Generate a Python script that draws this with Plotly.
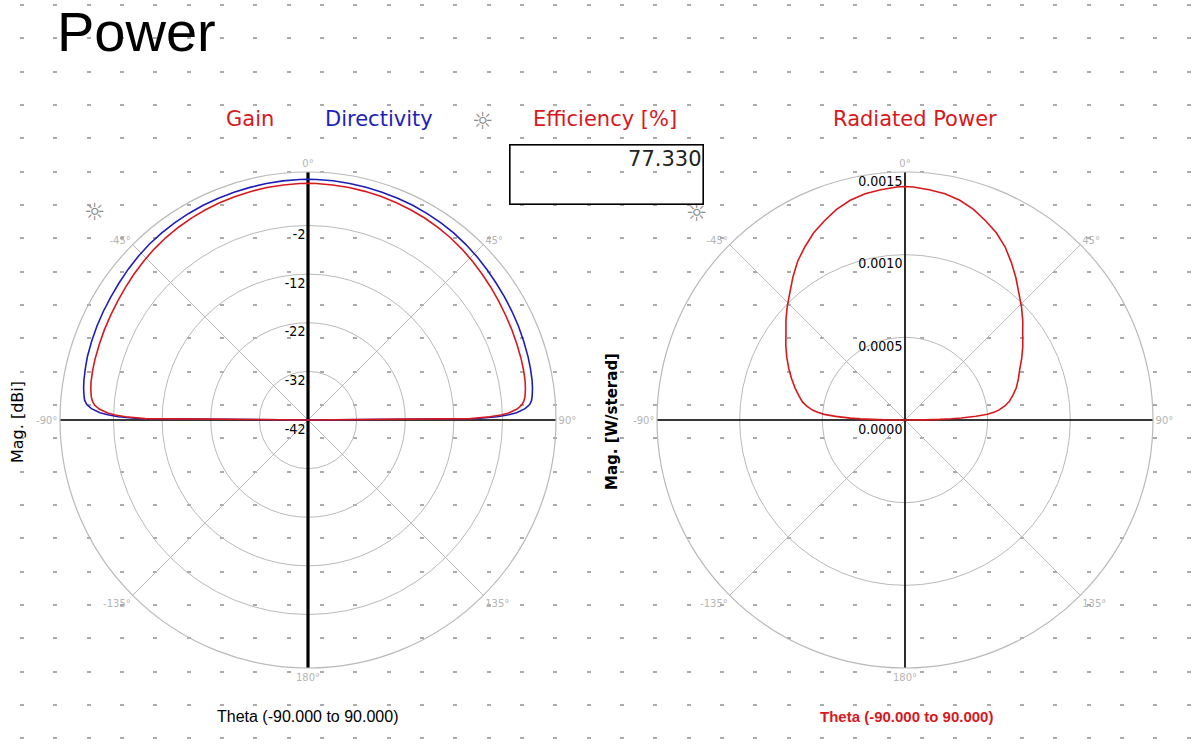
import plotly.graph_objects as go

W, H = 1192, 744

# ---------------- data ----------------
theta = [-90, -89.5, -89, -88.5, -88, -87, -86, -85, -84, -82, -80, -77, -74, -70, -66, -62,
         -58, -54, -50, -46, -42, -38, -34, -30, -26, -22, -18, -14, -10, -6, -2,
         0,
         2, 6, 10, 14, 18, 22, 26, 30, 34, 38, 42, 46, 50, 54, 58, 62,
         66, 70, 74, 77, 80, 82, 84, 85, 86, 87, 88, 88.5, 89, 89.5, 90]

directivity_dbi = [-42, -7, -3, -0.8, 0.8, 2.6, 3.6, 4.1, 4.3, 4.6, 4.8, 5.0, 5.2, 5.35, 5.5, 5.65,
                   5.8, 6.0, 6.25, 6.5, 6.7, 6.85, 6.95, 7.05, 7.15, 7.2, 7.25, 7.3, 7.38, 7.45, 7.5,
                   7.52,
                   7.5, 7.46, 7.4, 7.32, 7.26, 7.2, 7.12, 7.02, 6.9, 6.75, 6.55, 6.32, 6.08, 5.85, 5.68, 5.52,
                   5.38, 5.22, 5.08, 4.95, 4.8, 4.62, 4.35, 4.15, 3.7, 2.7, 0.9, -0.7, -3.1, -7.2, -42]

gain_dbi = [-42, -8.5, -4.5, -2.3, -0.8, 1.0, 2.0, 2.5, 2.8, 3.1, 3.3, 3.45, 3.55, 3.65, 3.8, 3.95,
            4.15, 4.4, 4.7, 5.0, 5.3, 5.55, 5.75, 5.95, 6.1, 6.25, 6.35, 6.45, 6.55, 6.6, 6.65,
            6.66,
            6.65, 6.6, 6.55, 6.46, 6.36, 6.25, 6.12, 5.96, 5.78, 5.56, 5.3, 5.02, 4.72, 4.45, 4.2, 4.0,
            3.85, 3.7, 3.6, 3.5, 3.35, 3.15, 2.85, 2.55, 2.05, 1.05, -0.7, -2.3, -4.6, -8.6, -42]

radiated_power = [0, 0.00012, 0.00020, 0.00027, 0.00033, 0.00042, 0.00049, 0.00053, 0.00056, 0.00060,
                  0.00063, 0.00066, 0.00069, 0.00073, 0.00077, 0.00081, 0.00085, 0.00089, 0.00094,
                  0.00099, 0.00104, 0.00110, 0.00116, 0.00121, 0.00126, 0.00130, 0.00134, 0.00137,
                  0.00139, 0.00140, 0.00141,
                  0.001412,
                  0.00141, 0.00140, 0.00139, 0.00137, 0.00134, 0.00130, 0.00126, 0.00121, 0.00115,
                  0.00109, 0.00103, 0.00098, 0.00093, 0.00088, 0.00084, 0.00080, 0.00076, 0.00073,
                  0.00070, 0.00067, 0.00064, 0.00061, 0.00057, 0.00054, 0.00050, 0.00043, 0.00034,
                  0.00028, 0.00021, 0.00012, 0]

efficiency_pct = 77.330

db_range = [-42, 9]
db_ticks = [-42, -32, -22, -12, -2]
pw_range = [0, 0.0015]
pw_ticks = [0.0, 0.0005, 0.0010, 0.0015]

ang_vals = [0, 45, 90, 135, 180, 225, 270, 315]
ang_text = ["0°", "45°", "90°", "135°", "180°", "-135°", "-90°", "-45°"]

RED = "rgb(215,25,30)"
BLUE = "rgb(30,30,185)"
GRID = "#b9b9b9"


def px(x):
    return x / W


def py(y):
    return 1 - y / H


def below_label(t):
    # empty first line drops the visible label just below its ring
    return f"<br>{t}"


fig = go.Figure()

# background dotted sheet (cartesian layer)
fig.add_trace(go.Scatter(x=[None], y=[None], xaxis="x", yaxis="y", showlegend=False,
                         hoverinfo="skip"))

# axis cross lines (left: thick vertical)
fig.add_trace(go.Scatterpolar(theta=[180, 0, 0], r=[db_range[1], db_range[0], db_range[1]],
                              mode="lines", line=dict(color="black", width=3.2),
                              subplot="polar", showlegend=False, hoverinfo="skip"))
fig.add_trace(go.Scatterpolar(theta=[270, 90, 90], r=[db_range[1], db_range[0], db_range[1]],
                              mode="lines", line=dict(color="black", width=1.6),
                              subplot="polar", showlegend=False, hoverinfo="skip"))
fig.add_trace(go.Scatterpolar(theta=[180, 0, 0], r=[pw_range[1], pw_range[0], pw_range[1]],
                              mode="lines", line=dict(color="black", width=1.6),
                              subplot="polar2", showlegend=False, hoverinfo="skip"))
fig.add_trace(go.Scatterpolar(theta=[270, 90, 90], r=[pw_range[1], pw_range[0], pw_range[1]],
                              mode="lines", line=dict(color="black", width=1.6),
                              subplot="polar2", showlegend=False, hoverinfo="skip"))

fig.add_trace(go.Scatterpolar(theta=theta, r=directivity_dbi, mode="lines", name="Directivity",
                              line=dict(color=BLUE, width=1.6), subplot="polar", showlegend=False))
fig.add_trace(go.Scatterpolar(theta=theta, r=gain_dbi, mode="lines", name="Gain",
                              line=dict(color=RED, width=1.6), subplot="polar", showlegend=False))
fig.add_trace(go.Scatterpolar(theta=theta, r=radiated_power, mode="lines", name="Radiated Power",
                              line=dict(color=RED, width=1.6), subplot="polar2", showlegend=False))


def polar_layout(cx, cy, rad, rrange, rticks, rtext):
    return dict(
        domain=dict(x=[px(cx - rad), px(cx + rad)], y=[py(cy + rad), py(cy - rad)]),
        bgcolor="rgba(0,0,0,0)",
        angularaxis=dict(rotation=90, direction="clockwise", tickmode="array",
                         tickvals=ang_vals, ticktext=ang_text, ticks="",
                         tickfont=dict(size=10, color="#b5b5b5", family="DejaVu Sans"),
                         gridcolor=GRID, gridwidth=1, linecolor=GRID, linewidth=1.2,
                         showline=True),
        radialaxis=dict(range=rrange, angle=90, side="counterclockwise", tickmode="array",
                        tickvals=rticks, ticktext=[below_label(t) for t in rtext], ticks="",
                        showline=False, tickangle=90,
                        gridcolor=GRID, gridwidth=1,
                        tickfont=dict(size=14, color="black", family="DejaVu Sans Condensed")),
    )


fig.update_layout(
    width=W, height=H, margin=dict(l=0, r=0, t=0, b=0),
    paper_bgcolor="white", plot_bgcolor="white",
    xaxis=dict(domain=[0, 1], range=[0, W], showgrid=False, zeroline=False,
               showticklabels=False, ticks="", fixedrange=True),
    yaxis=dict(domain=[0, 1], range=[H, 0], showgrid=True, zeroline=False,
               showticklabels=False, ticks="", tick0=5, dtick=33.33,
               gridcolor="#ababab", gridwidth=2, griddash="0px,20px,4px,9.33px",
               fixedrange=True),
    polar=polar_layout(308, 420, 248, db_range, db_ticks, [str(v) for v in db_ticks]),
    polar2=polar_layout(905, 420, 248, pw_range, pw_ticks, [f"{v:.4f}" for v in pw_ticks]),
    font=dict(family="DejaVu Sans"),
)

ann = []


def text(x, y, s, size, color="black", family="DejaVu Sans", xanchor="center", angle=0, **kw):
    ann.append(dict(x=px(x), y=py(y), xref="paper", yref="paper", text=s, showarrow=False,
                    xanchor=xanchor, yanchor="middle", textangle=angle,
                    font=dict(size=size, color=color, family=family), **kw))


text(55, 32, "Power", 56, family="Liberation Sans", xanchor="left")
text(250, 119, "Gain", 21, RED)
text(379, 119, "Directivity", 21, BLUE)
text(483, 121, "☼", 24, "#8a8a8a")
text(605, 119, "Efficiency [%]", 21, RED)
text(915, 119, "Radiated Power", 21, RED)
text(95, 212, "☼", 24, "#8a8a8a")
text(697, 213, "☼", 24, "#8a8a8a")
text(17, 422, "Mag. [dBi]", 16, angle=-90)
text(612, 422, "<b>Mag. [W/sterad]</b>", 15, angle=-90)
text(307, 716, "Theta (-90.000 to 90.000)", 16, family="Liberation Sans")
text(906, 716, "<b>Theta (-90.000 to 90.000)</b>", 15, RED, family="Liberation Sans")

ann.append(dict(x=px(509), y=py(144), xref="paper", yref="paper", xanchor="left", yanchor="top",
                text=f"{efficiency_pct:.3f}", showarrow=False, align="right", valign="top",
                width=190, height=56, borderpad=1, bordercolor="black", borderwidth=1.6,
                bgcolor="rgba(255,255,255,0)",
                font=dict(size=21, color="#222", family="DejaVu Sans")))

fig.update_layout(annotations=ann)

fig.write_html("out.html", config={"displayModeBar": False},
               post_script="document.body.style.margin='0';")
